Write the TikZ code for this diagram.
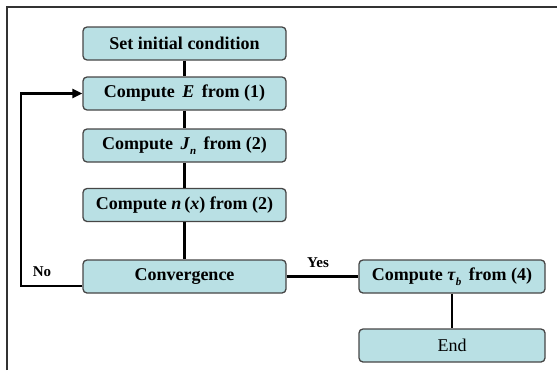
\documentclass[tikz,border=0pt]{standalone}
\usepackage{fontspec}
\setmainfont{Liberation Serif}
\usetikzlibrary{arrows.meta}
\definecolor{boxfill}{RGB}{185,224,228}
\definecolor{boxline}{RGB}{70,70,70}
\tikzset{
  stepbox/.style={draw=boxline, line width=1.3pt, fill=boxfill, rounded corners=4pt,
    minimum width=203pt, minimum height=33pt, inner sep=0pt, font=\fontsize{18}{20}\selectfont\bfseries},
  conn/.style={line width=2.8pt, black},
  frameline/.style={line width=1.8pt, black!80},
  lbl/.style={font=\fontsize{15}{17}\selectfont\bfseries, inner sep=0pt}
}
\newcommand{\subsc}[1]{\raisebox{-5pt}{\fontsize{11}{11}\selectfont\textit{#1}}}
\begin{document}
\begin{tikzpicture}[x=1pt,y=-1pt]
\useasboundingbox (0,0) rectangle (557,370);
\draw[frameline] (7,370) -- (7,7) -- (557,7);
\node[stepbox] (init) at (184.5,43.5) {Set initial condition};
\node[stepbox] (e) at (184.5,93.5) {Compute \,\textit{E}\, from (1)};
\node[stepbox] (j) at (184.5,145.5) {Compute \,\textit{J}\subsc{n}\, from (2)};
\node[stepbox] (n) at (184.5,205) {Compute \textit{n}\,(\textit{x}) from (2)};
\node[stepbox] (conv) at (184.5,276.5) {Convergence};
\node[stepbox, minimum width=186pt] (tau) at (452,276.5) {Compute \textit{τ}\subsc{b}\, from (4)};
\node[stepbox, minimum width=186pt, font=\fontsize{18}{20}\selectfont] (end) at (452,345.5) {End};
\coordinate (lp) at (21,286);
\draw[conn] (init) -- (e);
\draw[conn] (e) -- (j);
\draw[conn] (j) -- (n);
\draw[conn] (n) -- (conv);
\draw[conn] (conv) -- (tau);
\draw[conn] (tau) -- (end);
\draw[line width=2.4pt, -{Triangle[length=10pt,width=9pt]}] (conv.west |- lp) -- (lp) |- (e.west);
\node[lbl] (no) at (42,272) {No};
\node[lbl] (yes) at (318,263) {Yes};
\end{tikzpicture}
\end{document}
